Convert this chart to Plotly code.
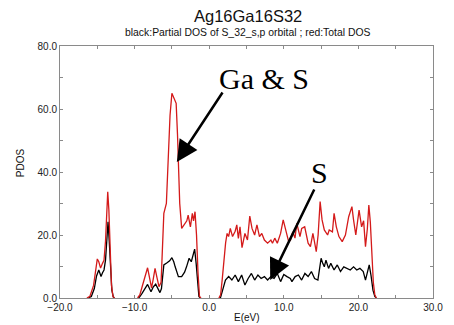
import plotly.graph_objects as go

# ---- data ----
energy_total = [
    -16.4, -16.0, -15.5, -15.2, -15.0, -14.8, -14.56, -14.3, -14.1, -13.9, -13.75, -13.6, -13.45, -13.3, -13.1, -12.9, -12.7,
    None,
    -9.6, -9.3, -9.0, -8.6, -8.26, -8.0, -7.73, -7.5, -7.26, -7.0, -6.73, -6.45, -6.25, -6.08, -5.74, -5.5, -5.25, -5.0,
    -4.7, -4.43, -4.25, -4.13, -3.95, -3.69, -3.45, -3.26, -3.0, -2.82, -2.52, -2.26, -2.1, -1.9, -1.7, -1.5, -1.3, -1.1,
    None,
    1.3, 1.53, 1.75, 1.96, 2.2, 2.4, 2.6, 2.83, 3.13, 3.48, 3.7, 3.91, 4.13, 4.4, 4.79, 5.13, 5.44, 5.74, 6.09, 6.4,
    6.74, 7.05, 7.4, 7.83, 8.27, 8.48, 8.79, 9.13, 9.57, 9.92, 10.22, 10.65, 10.9, 11.2, 11.5, 11.74, 12.17, 12.4, 12.8,
    13.26, 13.57, 13.9, 14.1, 14.35, 14.6, 14.87, 15.13, 15.43, 15.87, 16.09, 16.52, 16.74, 17.04, 17.39, 17.83, 18.26,
    18.7, 19.13, 19.35, 19.65, 20.09, 20.43, 20.7, 20.95, 21.2, 21.4, 21.6, 21.8, 22.0, 22.2, 22.4,
]
dos_total = [
    0, 0.5, 4, 10, 12.4, 11.5, 9.5, 11, 12, 18, 28, 33.7, 28, 15, 4, 0.5, 0,
    None,
    0, 1, 3.5, 7, 9.6, 6.5, 3.2, 6, 9.4, 6.5, 3.6, 5, 18, 26.9, 30, 42, 58, 65,
    63.5, 61.8, 52, 42.8, 30, 22.1, 23, 23.7, 24.5, 26.3, 22.6, 26.9, 24.5, 27.4, 20, 8, 0.5, 0,
    None,
    0, 1, 6, 12, 17.5, 20.5, 19.5, 22.1, 19.5, 21.2, 23.2, 18.9, 22.6, 16, 20.5, 18.4, 26, 22.1, 20, 23.2,
    19.5, 20.5, 18.4, 17.4, 18.4, 17.4, 19, 17.4, 20.5, 24.8, 21.6, 17.9, 18.4, 21, 19, 23.7, 19.5, 22.1, 22.6,
    17.4, 16.3, 20.5, 18, 14.7, 20, 30.6, 24.8, 21.6, 20, 21.6, 21, 26.9, 22.6, 19.5, 17.9, 20,
    25.8, 29, 24.8, 20, 27.9, 22.6, 24.5, 16.3, 22, 29.5, 24, 14, 5, 1, 0,
]

energy_s = [
    -16.2, -15.8, -15.4, -15.1, -14.8, -14.5, -14.3, -14.1, -13.9, -13.75, -13.56, -13.4, -13.25, -13.05, -12.85, -12.7,
    None,
    -9.5, -9.34, -9.0, -8.6, -8.26, -7.8, -7.5, -7.17, -6.9, -6.6, -6.4, -6.2, -6.08, -5.65, -5.3, -5.0, -4.75, -4.56,
    -4.3, -4.13, -3.69, -3.3, -3.04, -2.69, -2.4, -2.2, -1.95, -1.75, -1.55, -1.38, -1.2,
    None,
    1.35, 1.53, 1.8, 2.18, 2.61, 3.04, 3.48, 3.91, 4.35, 4.79, 5.22, 5.66, 6.09, 6.53, 6.96, 7.4, 7.83, 8.27, 8.7,
    9.13, 9.57, 10.0, 10.43, 10.87, 11.09, 11.52, 11.96, 12.39, 12.83, 13.26, 13.7, 14.13, 14.57, 15.0, 15.22, 15.43,
    15.65, 16.0, 16.3, 16.74, 17.17, 17.6, 18.04, 18.48, 18.91, 19.35, 19.78, 20.2, 20.65, 20.95, 21.2, 21.45, 21.7,
    21.95, 22.2, 22.4,
]
dos_s = [
    0, 0.5, 3, 7, 8.9, 6.8, 8, 8.9, 12, 18, 24.2, 18, 9, 2.5, 0.3, 0,
    None,
    0, 0.3, 1.5, 3, 4.3, 2, 3.5, 4.4, 3, 1.7, 3, 8, 10.5, 11.2, 11.8, 12.8, 11.5, 9.9,
    7.5, 6.8, 6.8, 8.2, 9.9, 12.6, 11.5, 13.5, 15.5, 11, 4, 0.5, 0,
    None,
    0, 0.2, 2.5, 5.7, 6.8, 5.7, 7.3, 5.2, 7.3, 4.1, 6.2, 7.8, 5.7, 7.3, 6.2, 6.8, 5.7, 6.8, 6.2,
    7.8, 5.2, 7.5, 6.8, 6.2, 5.2, 6.8, 7.3, 5.7, 7.8, 6.8, 8.4, 6.2, 5.7, 12.6, 11, 9.9,
    12, 9.4, 11, 8.9, 10.5, 8.4, 9.9, 9.4, 8.9, 9.9, 8.9, 9.4, 8.4, 5.7, 8, 10.5, 7,
    2.5, 0.5, 0,
]

x_range = [-20, 30]
y_range = [0, 80]
title_text = "Ag16Ga16S32"
subtitle_text = "black:Partial DOS of S_32_s,p orbital ; red:Total DOS"
x_title = "E(eV)"
y_title = "PDOS"

fig = go.Figure()
fig.add_trace(go.Scatter(x=energy_s, y=dos_s, mode="lines",
                         line=dict(color="#000000", width=1.3), connectgaps=False,
                         hoverinfo="skip"))
fig.add_trace(go.Scatter(x=energy_total, y=dos_total, mode="lines",
                         line=dict(color="#d41a1a", width=1.3), connectgaps=False,
                         hoverinfo="skip"))

axis_common = dict(
    showgrid=False, zeroline=False, showline=True, linecolor="#8a8a8a", linewidth=1,
    mirror="ticks", ticks="inside", ticklen=3, tickcolor="#8a8a8a",
    tickfont=dict(family="Liberation Sans, Arial", size=10, color="#222222"),
    tickformat=".1f",
)
fig.update_xaxes(range=x_range, dtick=10, tick0=-20,
                 minor=dict(dtick=5, ticks="inside", ticklen=3, tickcolor="#8a8a8a"),
                 **axis_common)
fig.update_yaxes(range=y_range, dtick=20, tick0=0,
                 minor=dict(dtick=10, ticks="inside", ticklen=3, tickcolor="#8a8a8a"),
                 **axis_common)

font_sans = "Liberation Sans, Arial"
annotations = [
    dict(text=title_text, xref="paper", yref="paper", x=0.503, y=1.119, showarrow=False,
         xanchor="center", yanchor="middle",
         font=dict(family=font_sans, size=16.5, color="#111111")),
    dict(text=subtitle_text, xref="paper", yref="paper", x=0.503, y=1.052, showarrow=False,
         xanchor="center", yanchor="middle",
         font=dict(family=font_sans, size=10.4, color="#111111")),
    dict(text=y_title, xref="paper", yref="paper", x=-0.104, y=0.536, showarrow=False, textangle=-90,
         xanchor="center", yanchor="middle",
         font=dict(family=font_sans, size=10, color="#111111")),
    dict(text=x_title, xref="paper", yref="paper", x=0.501, y=-0.079, showarrow=False,
         xanchor="center", yanchor="middle",
         font=dict(family=font_sans, size=10, color="#111111")),
    # labels
    dict(text="Ga &amp; S", xref="x", yref="y", x=7.4, y=69.8, showarrow=False,
         xanchor="center", yanchor="middle",
         font=dict(family="Liberation Serif, Times New Roman", size=30, color="#000000")),
    dict(text="S", xref="x", yref="y", x=14.8, y=39.7, showarrow=False,
         xanchor="center", yanchor="middle",
         font=dict(family="Liberation Serif, Times New Roman", size=30, color="#000000")),
    # arrows
    dict(text="", xref="x", yref="y", axref="x", ayref="y", x=-4.34, y=43.2, ax=1.92, ay=65.7,
         showarrow=True, arrowhead=2, arrowsize=1.7, arrowwidth=2.5, arrowcolor="#000000"),
    dict(text="", xref="x", yref="y", axref="x", ayref="y", x=8.18, y=5.7, ax=14.18, ay=34.9,
         showarrow=True, arrowhead=2, arrowsize=1.7, arrowwidth=2.5, arrowcolor="#000000"),
]

fig.update_layout(
    width=454, height=325,
    margin=dict(l=60, r=11, t=46, b=27),
    paper_bgcolor="white", plot_bgcolor="white",
    showlegend=False,
    annotations=annotations,
)

fig.write_html("out.html")
